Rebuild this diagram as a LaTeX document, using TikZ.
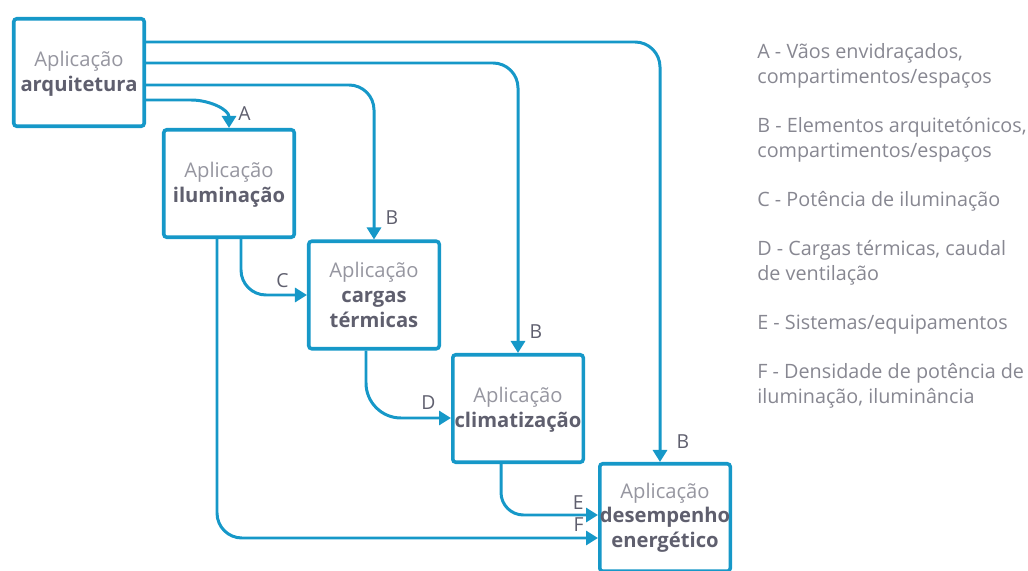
\documentclass[tikz,border=0pt]{standalone}
\usepackage{fontspec}
\setmainfont{Open Sans}
\usetikzlibrary{positioning,arrows.meta,calc}
\definecolor{flowblue}{RGB}{22,152,200}
\definecolor{lighttext}{RGB}{150,150,160}
\definecolor{darktext}{RGB}{95,95,110}
\definecolor{legendtext}{RGB}{135,135,145}

\tikzset{
  appbox/.style={rectangle,rounded corners=0.06cm,draw=flowblue,line width=2pt,
    fill=white,minimum width=2.61cm,minimum height=2.15cm,align=center,
    font=\fontsize{11.5}{14}\selectfont,text=darktext,inner sep=0pt},
  flow/.style={draw=flowblue,line width=1.7pt,rounded corners=0.5cm,
    -{Triangle[length=0.24cm,width=0.28cm]}},
  lbl/.style={text=darktext,font=\fontsize{11}{13}\selectfont,inner sep=0pt},
  legend/.style={anchor=base west,align=left,text=legendtext,
    font=\fontsize{11.25}{14}\selectfont,inner sep=0pt}
}
\newcommand{\appname}{{\color{lighttext}Aplicação}}

\begin{document}
\begin{tikzpicture}
\useasboundingbox (0,0) rectangle (20.56,11.4);
\clip (0,0) rectangle (20.56,11.4);

% aplicacoes
\node[appbox,text depth=0.04cm] (arq)    at (1.58,9.95)  {\appname\\\bfseries arquitetura};
\node[appbox,text depth=0.04cm] (ilum)   at (4.58,7.73)  {\appname\\\bfseries iluminação};
\node[appbox] (cargas) at (7.48,5.50)  {\appname\\\bfseries cargas\\\bfseries térmicas};
\node[appbox,text depth=0.04cm] (clim)   at (10.36,3.23) {\appname\\\bfseries climatização};
\node[appbox] (desemp) at (13.30,1.05) {\appname\\\bfseries desempenho\\\bfseries energético};

% fluxos de dados
\draw[flow] ([yshift=0.61cm]arq.east) -| ([xshift=-0.1cm]desemp.north)
  node[lbl,anchor=south west,xshift=0.3cm,yshift=0.24cm] {B};
\draw[flow] ([yshift=0.19cm]arq.east) -| (clim.north)
  node[lbl,anchor=south west,xshift=0.2cm,yshift=0.26cm] {B};
\draw[flow] ([yshift=-0.25cm]arq.east) -| (cargas.north)
  node[lbl,anchor=south west,xshift=0.2cm,yshift=0.26cm] {B};
\draw[flow,sharp corners] ([yshift=-0.55cm]arq.east) -- ++(0.9,0) to[out=0,in=90] (ilum.north)
  node[lbl,anchor=south west,xshift=0.16cm,yshift=0.12cm] {A};
\draw[flow] ([xshift=0.24cm]ilum.south) |- (cargas.west)
  node[lbl,anchor=south east,xshift=-0.34cm,yshift=0.12cm] {C};
\draw[flow,rounded corners=0.7cm] ([xshift=-0.16cm]cargas.south) |- ([yshift=-0.19cm]clim.west)
  node[lbl,anchor=south east,xshift=-0.28cm,yshift=0.14cm] {D};
\draw[flow,rounded corners=0.45cm] ([xshift=-0.34cm]clim.south) |- ([yshift=0.05cm]desemp.west)
  node[lbl,anchor=south east,xshift=-0.26cm,yshift=0.08cm] {E};
\draw[flow] ([xshift=-0.24cm]ilum.south) |- ([yshift=-0.41cm]desemp.west)
  node[lbl,anchor=south east,xshift=-0.26cm,yshift=0.1cm] {F};

% legenda (base = ultima linha)
\node[legend] (legA) at (15.14,9.73) {A - Vãos envidraçados,\\compartimentos/espaços};
\node[legend] (legB) at (15.14,8.25) {B - Elementos arquitetónicos,\\compartimentos/espaços};
\node[legend] (legC) at (15.14,7.27) {C - Potência de iluminação};
\node[legend] (legD) at (15.14,5.79) {D - Cargas térmicas, caudal\\de ventilação};
\node[legend] (legE) at (15.14,4.81) {E - Sistemas/equipamentos};
\node[legend] (legF) at (15.14,3.33) {F - Densidade de potência de\\iluminação, iluminância};
\end{tikzpicture}
\end{document}
